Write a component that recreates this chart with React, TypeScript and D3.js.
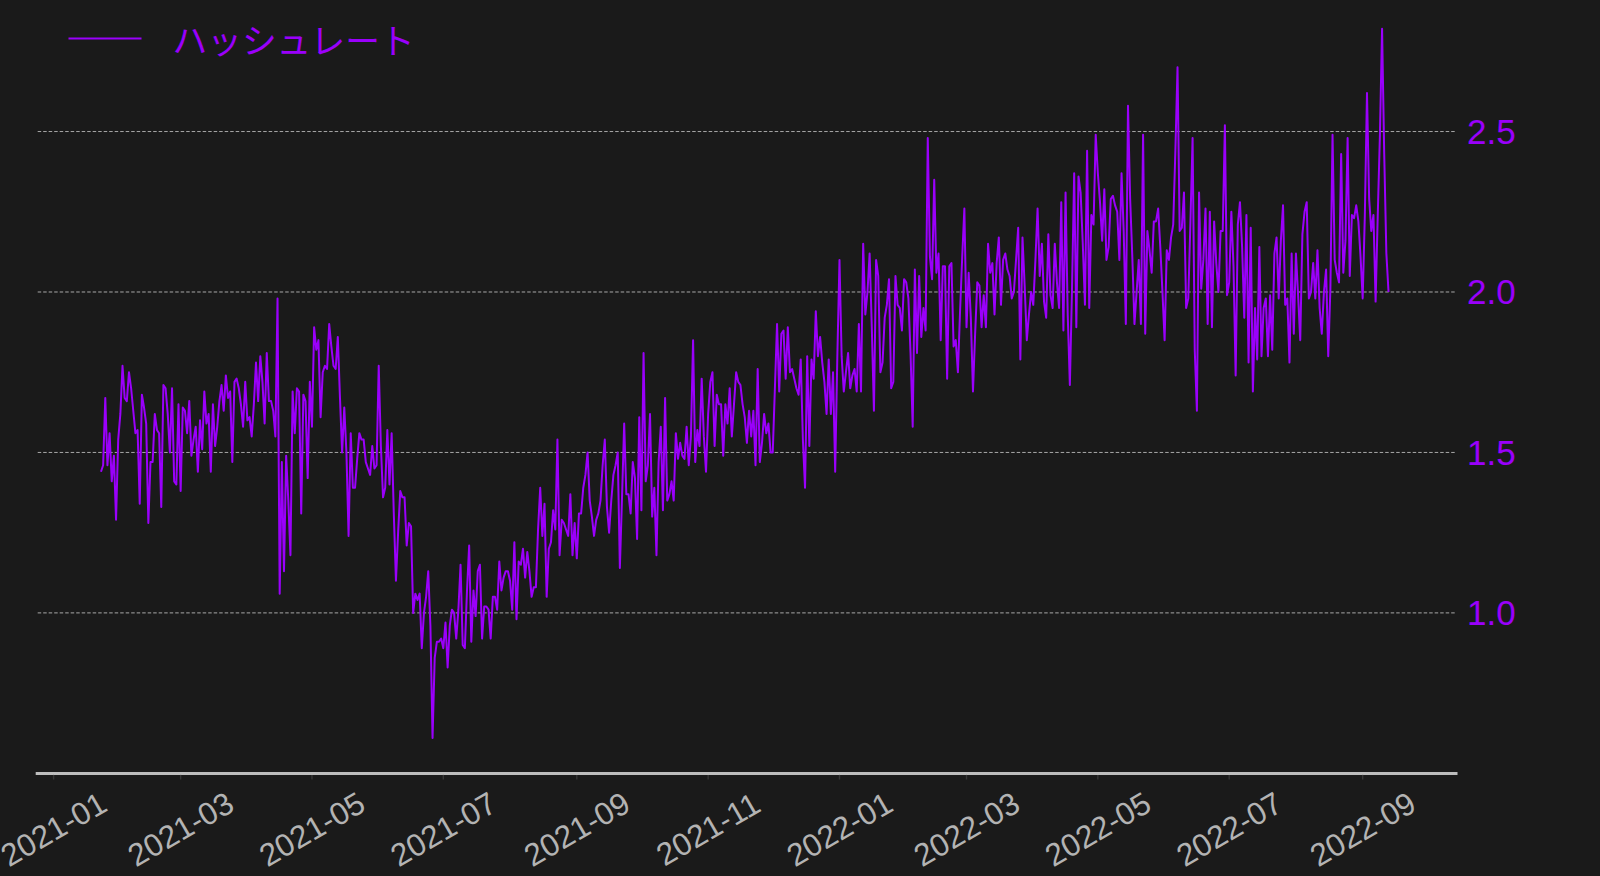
import React from "react";
import * as d3 from "d3";

// ---- data ----
const START_DATE = "2021-01-23"; // first daily observation
const SERIES_NAME = "ハッシュレート";

const hashrate: number[] = [
  // 2021-01-23 ..
  1.44, 1.46, 1.67, 1.46, 1.56, 1.41, 1.49, 1.29, 1.54, 1.62,
  1.77, 1.67, 1.66, 1.75, 1.70, 1.63, 1.56, 1.57, 1.34, 1.68, 1.64,
  1.59, 1.28, 1.47, 1.47, 1.62, 1.57, 1.56, 1.33, 1.71, 1.70, 1.62,
  1.50, 1.70, 1.41, 1.40, 1.65, 1.38, 1.64, 1.63, 1.56, 1.66, 1.49,
  1.54, 1.58, 1.44, 1.60, 1.51, 1.69, 1.59, 1.62, 1.44, 1.65, 1.52,
  1.58, 1.66, 1.71, 1.63, 1.74, 1.67, 1.69, 1.47, 1.72, 1.73, 1.70,
  1.65, 1.58, 1.72, 1.60, 1.61, 1.55, 1.65, 1.78, 1.66, 1.80, 1.72,
  1.59, 1.81, 1.66, 1.66, 1.63, 1.55, 1.98,
  // mid April 2021 ..
  1.06, 1.47, 1.13, 1.49, 1.35, 1.18, 1.69, 1.56, 1.70, 1.69,
  1.31, 1.68, 1.66, 1.42, 1.72, 1.58, 1.89, 1.82, 1.85, 1.61,
  1.75, 1.77, 1.76, 1.90, 1.83, 1.77, 1.76, 1.86, 1.67, 1.50,
  1.64, 1.50, 1.24, 1.56, 1.39, 1.39, 1.48, 1.56, 1.54, 1.54,
  1.47, 1.45, 1.43, 1.52, 1.45, 1.46, 1.77, 1.52, 1.36, 1.39,
  1.57, 1.40, 1.56, 1.31, 1.10, 1.25, 1.38, 1.36, 1.36, 1.21,
  1.28, 1.27, 1.00, 1.06, 1.04, 1.06, 0.89, 1.00, 1.05, 1.13,
  0.96, 0.61, 0.86, 0.91, 0.91, 0.92, 0.89, 0.97, 0.83, 0.96,
  1.01, 1.00, 0.92, 1.01, 1.15, 0.90, 0.89, 1.07, 1.21, 0.91,
  1.07, 0.99, 1.13,
  // mid July 2021 ..
  1.15, 0.92, 1.02, 1.02, 1.01, 0.92, 1.05, 1.05, 1.01, 1.16,
  1.07, 1.11, 1.13, 1.13, 1.10, 1.01, 1.22, 0.98, 1.16, 1.15,
  1.20, 1.11, 1.19, 1.13, 1.05, 1.08, 1.08, 1.26, 1.39, 1.24,
  1.34, 1.05, 1.20, 1.22, 1.32, 1.26, 1.54, 1.18, 1.29, 1.28,
  1.26, 1.24, 1.37, 1.18, 1.28, 1.17, 1.31, 1.31, 1.39, 1.43,
  1.50, 1.35, 1.30, 1.24, 1.29, 1.31, 1.35, 1.46, 1.54, 1.33,
  1.25, 1.35, 1.43, 1.46, 1.50, 1.14, 1.36, 1.59, 1.37, 1.37,
  1.31, 1.47, 1.42, 1.23, 1.61, 1.32, 1.81, 1.41, 1.46, 1.62,
  1.30, 1.39, 1.18, 1.47, 1.58, 1.32, 1.67, 1.35,
  // mid October 2021 ..
  1.37, 1.41, 1.35, 1.56, 1.48, 1.53, 1.49, 1.48, 1.58, 1.46,
  1.55, 1.85, 1.47, 1.57, 1.52, 1.73, 1.55, 1.44, 1.62, 1.72,
  1.75, 1.52, 1.68, 1.65, 1.65, 1.49, 1.65, 1.59, 1.70, 1.55,
  1.65, 1.75, 1.72, 1.71, 1.65, 1.61, 1.53, 1.63, 1.55, 1.63,
  1.46, 1.76, 1.47, 1.53, 1.62, 1.56, 1.59, 1.50, 1.50, 1.70,
  1.90, 1.69, 1.87, 1.88, 1.73, 1.89, 1.75, 1.76, 1.73, 1.70,
  1.68, 1.79, 1.54, 1.39, 1.80, 1.52, 1.79, 1.73, 1.94, 1.80,
  1.86, 1.78, 1.72, 1.62, 1.79, 1.62, 1.75, 1.44, 1.80, 2.10,
  1.80, 1.69, 1.75, 1.81, 1.70, 1.74, 1.76, 1.69,
  // early January 2022 ..
  1.90, 1.69, 2.15, 1.93, 2.00, 2.12, 1.89, 1.63, 2.10, 2.05,
  1.75, 1.78, 1.92, 1.96, 2.04, 1.70, 1.72, 2.05, 1.96, 1.95,
  1.88, 2.04, 2.03, 1.98, 1.81, 1.58, 2.07, 1.81, 2.05, 1.86,
  1.95, 1.88, 2.48, 2.11, 2.04, 2.35, 2.06, 2.12, 1.85, 2.08,
  2.08, 1.73, 2.08, 2.09, 1.83, 1.85, 1.75, 1.94, 2.11, 2.26,
  1.89, 2.06, 1.92, 1.69, 1.87, 2.03, 2.02, 1.89, 1.99, 1.89,
  2.15, 2.06, 2.09, 1.93, 2.09, 2.17, 1.96, 2.10, 2.12, 2.07,
  2.05, 1.98, 2.00, 2.10, 2.20, 1.79, 2.17, 2.02, 1.85, 1.93,
  2.00, 1.96, 2.10, 2.26, 2.05, 2.15, 1.97, 1.92, 2.18,
  // early April 2022 ..
  1.99, 1.95, 2.15, 2.03, 1.95, 2.28, 1.88, 2.31, 1.93, 1.71,
  2.01, 2.37, 1.89, 2.36, 2.31, 2.15, 1.96, 2.44, 1.95, 2.24,
  2.21, 2.49, 2.37, 2.28, 2.16, 2.32, 2.10, 2.14, 2.29, 2.30,
  2.27, 2.25, 2.10, 2.37, 2.19, 1.90, 2.58, 2.29, 2.11, 1.90,
  2.00, 2.10, 1.90, 2.49, 1.87, 2.19, 2.13, 2.06, 2.22, 2.22,
  2.26, 2.14, 2.00, 1.85, 2.13, 2.10, 2.17, 2.21, 2.44, 2.70,
  2.19, 2.20, 2.31, 1.95, 1.98, 2.22, 2.48, 1.82, 1.63, 2.31,
  2.01, 2.10, 2.26, 1.90, 2.25, 1.89, 2.22, 2.09, 2.00, 2.19,
  2.19, 2.52, 1.99, 2.03, 2.25, 2.08, 1.74, 2.21,
  // early July 2022 ..
  2.28, 2.14, 1.92, 2.24, 1.78, 2.20, 1.69, 1.95, 1.79, 2.14, 1.80,
  1.95, 1.98, 1.80, 1.99, 1.82, 2.12, 2.17, 1.98, 2.16, 2.27,
  1.96, 1.98, 1.78, 2.12, 1.87, 2.12, 1.99, 1.85, 2.18, 2.25,
  2.28, 1.98, 2.00, 2.09, 1.98, 2.13, 1.95, 1.87, 2.00, 2.07,
  1.80, 2.01, 2.49, 2.10, 2.06, 2.03, 2.43, 2.06, 2.16, 2.48,
  2.05, 2.24, 2.23, 2.27, 2.22, 2.11, 1.98, 2.24, 2.62, 2.29,
  2.19, 2.24, 1.97, 2.24, 2.49, 2.82, 2.43, 2.12, 2.00,
];

const xTickLabels = [
  "2021-01", "2021-03", "2021-05", "2021-07", "2021-09", "2021-11",
  "2022-01", "2022-03", "2022-05", "2022-07", "2022-09",
];
const yTickValues = [1.0, 1.5, 2.0, 2.5];

// ---- style ----
const W = 1600;
const H = 876;
const BG = "#1a1a1a";
const PURPLE = "#9a00fb";
const AXIS_GRAY = "#bdbdbd";
const LABEL_GRAY = "#b3b3b3";
const GRID_GRAY = "#a8a8a8";

// axes frame
const frameLeft = 35.7;
const frameRight = 1457.5;
// x scale range (data padded by 5%)
const xRangeLeft = 36.6;
const xRangeRight = 1452.9;
const plotTop = -6.6;
const plotBottom = 773.5;

export default function App() {
  const start = new Date(START_DATE + "T00:00:00Z");
  const data = hashrate.map((v, i) => ({ date: d3.utcDay.offset(start, i), value: v }));

  const t0 = data[0].date.getTime();
  const t1 = data[data.length - 1].date.getTime();
  const tPad = (t1 - t0) * 0.05;
  const x = d3
    .scaleUtc()
    .domain([new Date(t0 - tPad), new Date(t1 + tPad)])
    .range([xRangeLeft, xRangeRight]);

  const [vMin, vMax] = d3.extent(hashrate) as [number, number];
  const vPad = (vMax - vMin) * 0.05;
  const y = d3
    .scaleLinear()
    .domain([vMin - vPad, vMax + vPad])
    .range([plotBottom, plotTop]);

  const line = d3
    .line<{ date: Date; value: number }>()
    .x((d) => x(d.date))
    .y((d) => y(d.value));

  const parseMonth = d3.utcParse("%Y-%m");
  const xTicks = xTickLabels.map((lab) => ({ lab, pos: x(parseMonth(lab) as Date) }));

  return (
    <svg
      width={W}
      height={H}
      style={{ position: "absolute", left: 0, top: 0, display: "block" }}
    >
      <rect x={0} y={0} width={W} height={H} fill={BG} />

      {/* grid */}
      {yTickValues.map((v) => (
        <line
          key={"g" + v}
          x1={frameLeft + 2}
          x2={frameRight - 2}
          y1={y(v)}
          y2={y(v)}
          stroke={GRID_GRAY}
          strokeWidth={1}
          strokeDasharray="3.5,2"
        />
      ))}

      {/* series */}
      <path
        d={line(data) || ""}
        fill="none"
        stroke={PURPLE}
        strokeWidth={2}
        strokeLinejoin="round"
      />

      {/* x axis */}
      <line
        x1={frameLeft}
        x2={frameRight}
        y1={plotBottom}
        y2={plotBottom}
        stroke={AXIS_GRAY}
        strokeWidth={2.8}
      />
      {xTicks.map((t) => (
        <g key={t.lab}>
          <line
            x1={t.pos}
            x2={t.pos}
            y1={plotBottom + 1.4}
            y2={plotBottom + 6}
            stroke="#363636"
            strokeWidth={1.4}
          />
          <text
            transform={`translate(${t.pos},829) rotate(-30)`}
            textAnchor="middle"
            dominantBaseline="central"
            fontFamily="'Liberation Sans', Arial, sans-serif"
            fontSize={31.5}
            fill={LABEL_GRAY}
          >
            {t.lab}
          </text>
        </g>
      ))}

      {/* y axis labels (right) */}
      {yTickValues.map((v) => (
        <text
          key={"y" + v}
          x={1467}
          y={y(v)}
          dominantBaseline="central"
          fontFamily="'Liberation Sans', Arial, sans-serif"
          fontSize={35}
          fill={PURPLE}
        >
          {v.toFixed(1)}
        </text>
      ))}

      {/* legend */}
      <line x1={68.5} x2={141.5} y1={38.5} y2={38.5} stroke={PURPLE} strokeWidth={2} />
      <text
        x={172.5}
        y={38.5}
        dominantBaseline="central"
        fontFamily="'Noto Sans CJK JP', sans-serif"
        fontSize={34.7}
        fill={PURPLE}
      >
        {SERIES_NAME}
      </text>
    </svg>
  );
}
